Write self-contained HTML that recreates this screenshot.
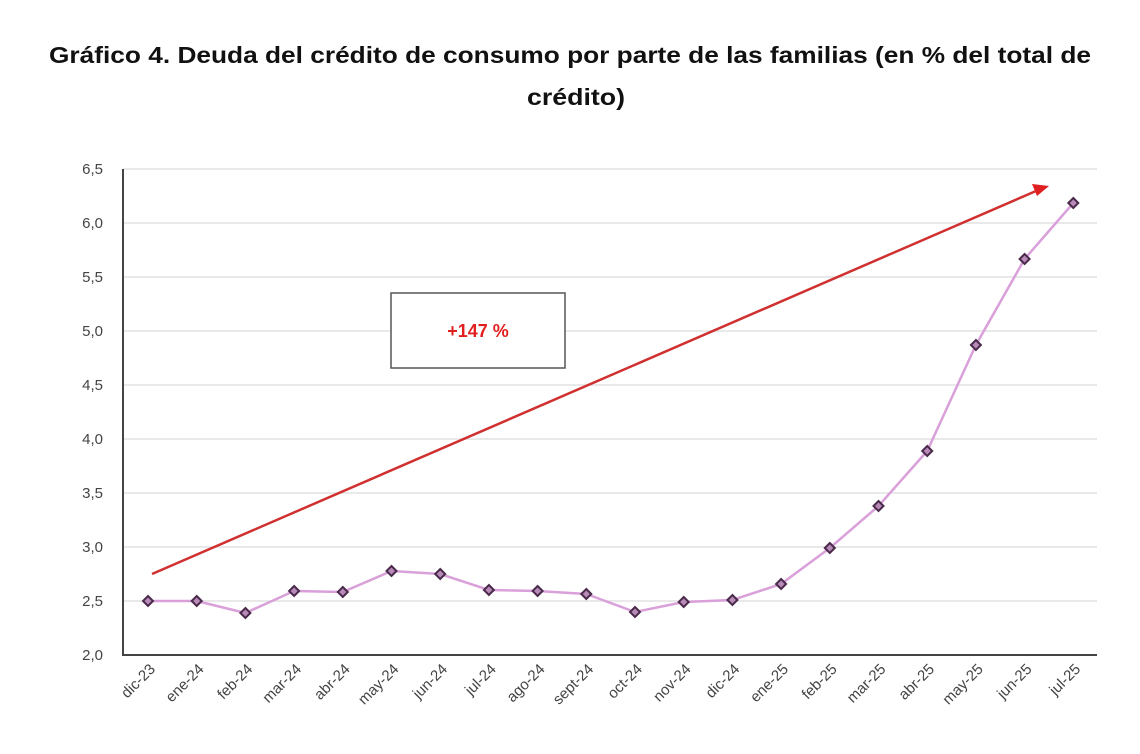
<!DOCTYPE html>
<html><head><style>body{margin:0;background:#fff}</style></head><body>
<svg width="1140" height="749" xmlns="http://www.w3.org/2000/svg" font-family="Liberation Sans, sans-serif">
<text x="570" y="63" text-anchor="middle" font-size="23" font-weight="bold" fill="#111" textLength="1042" lengthAdjust="spacingAndGlyphs">Gráfico 4. Deuda del crédito de consumo por parte de las familias (en % del total de</text>
<text x="576" y="105" text-anchor="middle" font-size="23" font-weight="bold" fill="#111" textLength="98" lengthAdjust="spacingAndGlyphs">crédito)</text>
<g stroke="#e2e2e2" stroke-width="1.5">
<line x1="123" x2="1097" y1="169" y2="169"/><line x1="123" x2="1097" y1="223" y2="223"/><line x1="123" x2="1097" y1="277" y2="277"/><line x1="123" x2="1097" y1="331" y2="331"/><line x1="123" x2="1097" y1="385" y2="385"/><line x1="123" x2="1097" y1="439" y2="439"/><line x1="123" x2="1097" y1="493" y2="493"/><line x1="123" x2="1097" y1="547" y2="547"/><line x1="123" x2="1097" y1="601" y2="601"/>
</g>
<polyline points="123,169 123,655 1097,655" fill="none" stroke="#444" stroke-width="2"/>
<g font-size="15" fill="#444" text-anchor="end">
<text x="103" y="174">6,5</text><text x="103" y="228">6,0</text><text x="103" y="282">5,5</text><text x="103" y="336">5,0</text><text x="103" y="390">4,5</text><text x="103" y="444">4,0</text><text x="103" y="498">3,5</text><text x="103" y="552">3,0</text><text x="103" y="606">2,5</text><text x="103" y="660">2,0</text>
</g>
<rect x="391" y="293" width="174" height="75" fill="#fff" stroke="#555" stroke-width="1.5"/>
<text x="478" y="337" text-anchor="middle" font-size="18" font-weight="bold" fill="#e02020">+147 %</text>
<line x1="152" y1="574" x2="1036" y2="191" stroke="#d03030" stroke-width="2.5"/>
<polygon points="1049,186 1032,184 1037,196" fill="#e02020"/>
<polyline fill="none" stroke="#d9a0d9" stroke-width="2.5" points="148,601 196.7,601 245.4,613 294.1,591 342.8,592 391.5,571 440.2,574 488.9,590 537.6,591 586.3,594 635,612 683.7,602 732.4,600 781.1,584 829.8,548 878.5,506 927.2,451 975.9,345 1024.6,259 1073.3,203"/>
<g fill="#b88ab8" stroke="#4a2a4a" stroke-width="2">
<path d="M148,596l5,5l-5,5l-5,-5z"/><path d="M196.7,596l5,5l-5,5l-5,-5z"/><path d="M245.4,608l5,5l-5,5l-5,-5z"/><path d="M294.1,586l5,5l-5,5l-5,-5z"/><path d="M342.8,587l5,5l-5,5l-5,-5z"/><path d="M391.5,566l5,5l-5,5l-5,-5z"/><path d="M440.2,569l5,5l-5,5l-5,-5z"/><path d="M488.9,585l5,5l-5,5l-5,-5z"/><path d="M537.6,586l5,5l-5,5l-5,-5z"/><path d="M586.3,589l5,5l-5,5l-5,-5z"/><path d="M635,607l5,5l-5,5l-5,-5z"/><path d="M683.7,597l5,5l-5,5l-5,-5z"/><path d="M732.4,595l5,5l-5,5l-5,-5z"/><path d="M781.1,579l5,5l-5,5l-5,-5z"/><path d="M829.8,543l5,5l-5,5l-5,-5z"/><path d="M878.5,501l5,5l-5,5l-5,-5z"/><path d="M927.2,446l5,5l-5,5l-5,-5z"/><path d="M975.9,340l5,5l-5,5l-5,-5z"/><path d="M1024.6,254l5,5l-5,5l-5,-5z"/><path d="M1073.3,198l5,5l-5,5l-5,-5z"/>
</g>
<g font-size="15" fill="#444" text-anchor="end">
<text transform="translate(156,670) rotate(-45)">dic-23</text>
<text transform="translate(204.7,670) rotate(-45)">ene-24</text>
<text transform="translate(253.4,670) rotate(-45)">feb-24</text>
<text transform="translate(302.1,670) rotate(-45)">mar-24</text>
<text transform="translate(350.8,670) rotate(-45)">abr-24</text>
<text transform="translate(399.5,670) rotate(-45)">may-24</text>
<text transform="translate(448.2,670) rotate(-45)">jun-24</text>
<text transform="translate(496.9,670) rotate(-45)">jul-24</text>
<text transform="translate(545.6,670) rotate(-45)">ago-24</text>
<text transform="translate(594.3,670) rotate(-45)">sept-24</text>
<text transform="translate(643,670) rotate(-45)">oct-24</text>
<text transform="translate(691.7,670) rotate(-45)">nov-24</text>
<text transform="translate(740.4,670) rotate(-45)">dic-24</text>
<text transform="translate(789.1,670) rotate(-45)">ene-25</text>
<text transform="translate(837.8,670) rotate(-45)">feb-25</text>
<text transform="translate(886.5,670) rotate(-45)">mar-25</text>
<text transform="translate(935.2,670) rotate(-45)">abr-25</text>
<text transform="translate(983.9,670) rotate(-45)">may-25</text>
<text transform="translate(1032.6,670) rotate(-45)">jun-25</text>
<text transform="translate(1081.3,670) rotate(-45)">jul-25</text>
</g>
</svg>
</body></html>
